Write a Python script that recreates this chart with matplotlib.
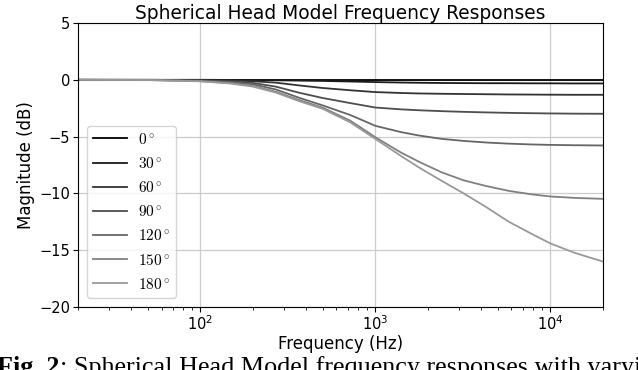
import numpy as np
import matplotlib
matplotlib.use("Agg")
from matplotlib import pyplot as plt

plt.rcParams['mathtext.fontset'] = 'cm'

freqs = [20, 50, 100, 150, 200, 270, 370, 500, 720, 1000, 1400, 1770,
         2400, 3200, 4300, 5800, 7800, 10000, 13900, 20000]

angles = [0, 30, 60, 90, 120, 150, 180]

mag_0 = [0.0] * 20
mag_30 = [0, 0, 0, -0.01, -0.02, -0.04, -0.07, -0.1, -0.15, -0.2, -0.24,
          -0.26, -0.28, -0.29, -0.3, -0.3, -0.31, -0.31, -0.32, -0.32]
mag_60 = [0, 0, -0.03, -0.07, -0.13, -0.25, -0.5, -0.72, -0.92, -1.08, -1.16,
          -1.2, -1.23, -1.25, -1.27, -1.29, -1.3, -1.31, -1.32, -1.32]
mag_90 = [0, -0.01, -0.06, -0.15, -0.28, -0.6, -1.15, -1.6, -2.05, -2.44,
          -2.6, -2.68, -2.76, -2.82, -2.87, -2.91, -2.94, -2.96, -2.98, -2.99]
mag_120 = [0, -0.01, -0.09, -0.22, -0.4, -0.85, -1.6, -2.25, -3.1, -4.05,
           -4.6, -4.9, -5.2, -5.38, -5.52, -5.62, -5.69, -5.73, -5.76, -5.78]
mag_150 = [0, -0.02, -0.12, -0.3, -0.55, -1.05, -1.8, -2.45, -3.6, -5.05,
           -6.4, -7.2, -8.15, -8.85, -9.35, -9.78, -10.08, -10.27, -10.4, -10.48]
mag_180 = [0, -0.02, -0.13, -0.33, -0.6, -1.12, -1.9, -2.55, -3.75, -5.2,
           -6.7, -7.7, -8.9, -10.0, -11.2, -12.5, -13.55, -14.4, -15.25, -16.0]

curves = [mag_0, mag_30, mag_60, mag_90, mag_120, mag_150, mag_180]
grays = ['#000000', '#1a1a1a', '#333333', '#4d4d4d', '#666666', '#808080', '#999999']

fig = plt.figure(figsize=(6.38, 3.70), dpi=100)
ax = fig.add_axes([0.1223, 0.1703, 0.8227, 0.7675])

for ang, mag, col in zip(angles, curves, grays):
    ax.semilogx(freqs, mag, color=col, lw=1.3, label=r'$%d^\circ$' % ang)

ax.set_xlim(20, 20000)
ax.set_ylim(-20, 5)
ax.set_yticks([-20, -15, -10, -5, 0, 5])
ax.grid(True, which='major', color='#cccccc', lw=0.9)
ax.set_axisbelow(True)
ax.tick_params(labelsize=10.5, pad=2, length=3.5)

ax.set_title('Spherical Head Model Frequency Responses', fontsize=13.4, pad=2)
ax.set_xlabel('Frequency (Hz)', fontsize=12, labelpad=1)
ax.set_ylabel('Magnitude (dB)', fontsize=12, labelpad=3)

ax.legend(loc='lower left', fontsize=11, handlelength=2.2, handletextpad=0.7,
          labelspacing=0.6, borderaxespad=0.6)

# caption below the figure (cut off like in the paper)
t1 = fig.text(-0.004, -0.01, 'Fig. 2', fontsize=18.8, fontweight='bold',
              family='Liberation Serif', va='baseline')
fig.canvas.draw()
bb = t1.get_window_extent()
fig.text(bb.x1 / fig.bbox.width, -0.01,
         ': Spherical Head Model frequency responses with varying angles',
         fontsize=18.8, family='Liberation Serif', va='baseline')

plt.savefig('out.png', dpi=100)
plt.close()
